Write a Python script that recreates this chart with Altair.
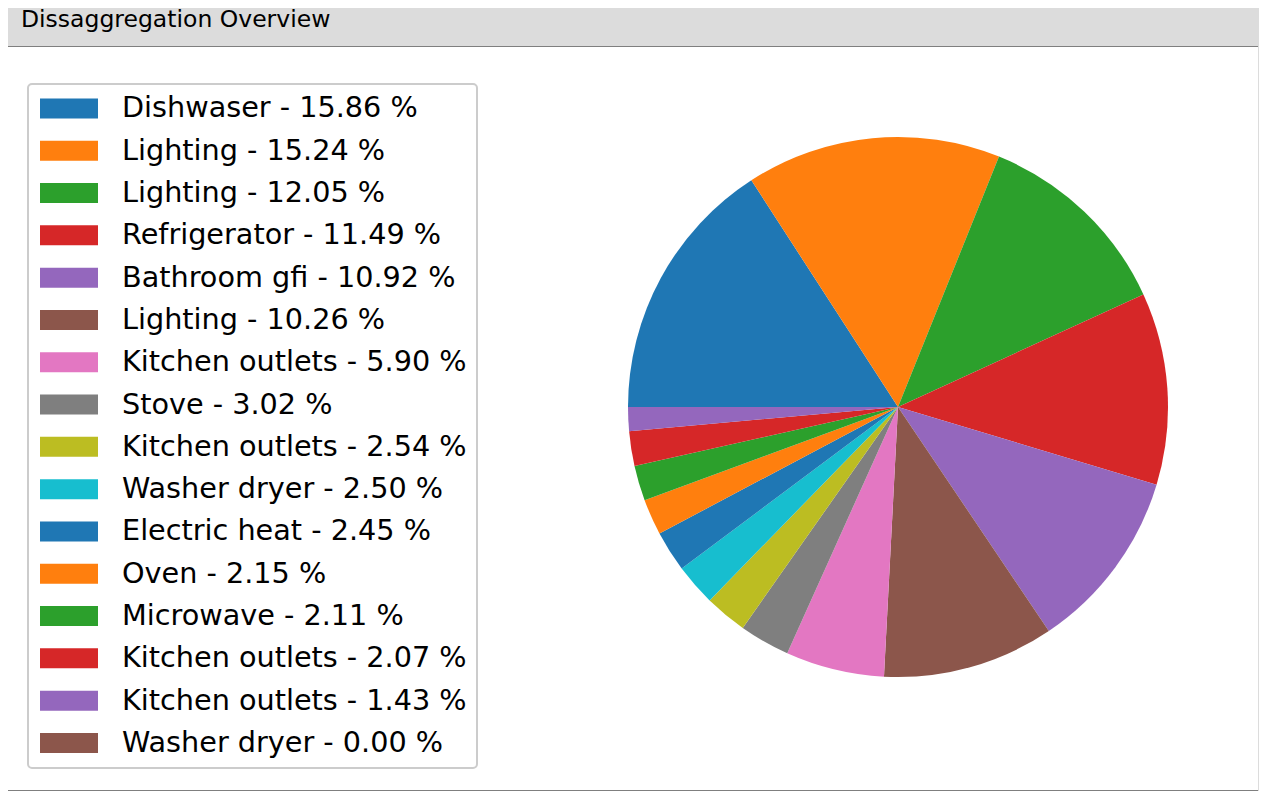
import altair as alt
import pandas as pd

names = ["Dishwaser", "Lighting", "Lighting", "Refrigerator", "Bathroom gfi",
         "Lighting", "Kitchen outlets", "Stove", "Kitchen outlets", "Washer dryer",
         "Electric heat", "Oven", "Microwave", "Kitchen outlets", "Kitchen outlets",
         "Washer dryer"]
shares = [15.86, 15.24, 12.05, 11.49, 10.92, 10.26, 5.90, 3.02, 2.54, 2.50,
          2.45, 2.15, 2.11, 2.07, 1.43, 0.00]
palette = ["#1f77b4", "#ff7f0e", "#2ca02c", "#d62728", "#9467bd",
           "#8c564b", "#e377c2", "#7f7f7f", "#bcbd22", "#17becf"]
title_text = "Dissaggregation Overview"

labels = [f"{n} - {v:.2f} %" for n, v in zip(names, shares)]
colors = [palette[i % len(palette)] for i in range(len(labels))]
df = pd.DataFrame({"label": labels, "share": shares, "idx": list(range(len(labels)))})

W, H = 1250, 743

pie = alt.Chart(df).mark_arc(outerRadius=270, innerRadius=0).encode(
    theta=alt.Theta("share:Q", stack=True,
                    scale=alt.Scale(range=[4.71238898, 10.99557429])),
    color=alt.Color(
        "label:N",
        scale=alt.Scale(domain=labels, range=colors),
        sort=labels,
        legend=alt.Legend(
            title=None, orient="none", legendX=20, legendY=37,
            symbolType="M-1,-0.345L1,-0.345L1,0.345L-1,0.345Z",
            symbolSize=3364, symbolStrokeWidth=0, symbolOpacity=1,
            symbolOffset=1.9,
            labelFont="DejaVu Sans", labelFontSize=28.7, labelColor="black",
            labelLimit=600, labelOffset=24,
            clipHeight=28.7, rowPadding=12.3, padding=10.1,
            strokeColor="#cccccc", cornerRadius=4, fillColor="white",
        ),
    ),
    order=alt.Order("idx:Q", sort="ascending"),
    x=alt.value(890),
    y=alt.value(360),
)

frame_df = pd.DataFrame({"k": [0]})
top_rule = alt.Chart(frame_df).mark_rule(color="#7f7f7f", strokeWidth=1).encode(
    x=alt.value(0), x2=alt.value(W), y=alt.value(-0.5))
bottom_rule = alt.Chart(frame_df).mark_rule(color="#7f7f7f", strokeWidth=1).encode(
    x=alt.value(0), x2=alt.value(W), y=alt.value(H + 0.5))
title_mark = alt.Chart(frame_df).mark_text(
    text=title_text, align="left", baseline="alphabetic", font="DejaVu Sans",
    fontSize=23.5, color="black").encode(x=alt.value(13), y=alt.value(-20))

chart = alt.layer(pie, top_rule, bottom_rule, title_mark).properties(
    width=W, height=H,
    padding={"left": 0, "top": 39, "right": 1, "bottom": 1},
    autosize=alt.AutoSizeParams(type="none"),
    background="#dcdcdc",
).configure_view(fill="white", strokeWidth=0).configure_legend(strokeWidth=2)

chart.save("out.html", embed_options={"renderer": "svg", "actions": False})
